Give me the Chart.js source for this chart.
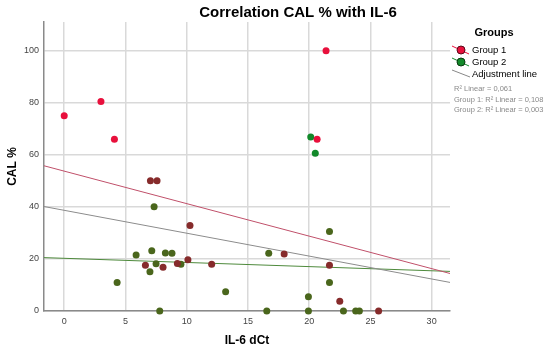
<html>
<head>
<script src="https://cdn.jsdelivr.net/npm/chart.js@4.4.0/dist/chart.umd.min.js"></script>
<style>
  body { margin: 0; background: #fff; }
  #wrap { position: relative; width: 550px; height: 351px; }
</style>
</head>
<body>
<div id="wrap"><canvas id="chart"></canvas></div>
<script>
// values (IL-6 dCt vs CAL %)
var g1X = [0, 3, 4.1, 7.04, 7.58, 10.27, 10.1, 6.63, 8.07, 9.24, 21.38, 20.65, 17.96, 12.04, 21.66, 22.5, 25.67];
var g1Y = [75, 80.5, 66, 50, 50, 32.8, 19.7, 17.6, 16.8, 18.2, 100, 66, 21.9, 18, 17.6, 3.7, 0];
var g2X = [7.34, 5.87, 7.15, 8.26, 8.8, 7.5, 7.0, 9.53, 4.32, 7.8, 20.13, 20.5, 21.66, 16.7, 21.66, 13.18, 19.94, 16.54, 19.94, 22.8, 23.8, 24.1];
var g2Y = [40, 21.5, 23.1, 22.3, 22.2, 18.1, 15.1, 18, 10.9, 0, 66.8, 60.6, 30.5, 22.2, 10.9, 7.4, 5.5, 0, 0, 0, 0, 0];
var xTicks = [0, 5, 10, 15, 20, 25, 30];
var yTicks = [0, 20, 40, 60, 80, 100];
var rLabels = ['R\u00B2 Linear = 0,061', 'Group 1: R\u00B2 Linear = 0,108', 'Group 2: R\u00B2 Linear = 0,003'];

var xMin = -1.65, xMax = 31.5, yMin = 0, yMax = 111;

function pts(xs, ys) {
  var out = [];
  for (var i = 0; i < xs.length; i++) out.push({x: xs[i], y: ys[i]});
  return out;
}

// least squares fit line across the whole x range
function fit(xs, ys) {
  var n = xs.length, mx = 0, my = 0;
  for (var i = 0; i < n; i++) { mx += xs[i]; my += ys[i]; }
  mx /= n; my /= n;
  var sxy = 0, sxx = 0;
  for (var i = 0; i < n; i++) { sxy += (xs[i] - mx) * (ys[i] - my); sxx += (xs[i] - mx) * (xs[i] - mx); }
  var b = sxy / sxx, a = my - b * mx;
  return [{x: xMin, y: a + b * xMin}, {x: xMax, y: a + b * xMax}];
}

var red = '#e8103c', darkRed = '#862b2b', green = '#12892a', olive = '#4a661c';

var legendPlugin = {
  id: 'legendPlugin',
  afterDraw: function(chart) {
    var ctx = chart.ctx;
    ctx.save();
    ctx.fillStyle = '#000';
    ctx.textBaseline = 'middle';
    ctx.textAlign = 'center';
    ctx.font = 'bold 15px "Liberation Sans", Arial, sans-serif';
    ctx.fillText('Correlation CAL % with IL-6', 298, 13);

    ctx.font = 'bold 11px "Liberation Sans", Arial, sans-serif';
    ctx.fillText('Groups', 494, 33);

    ctx.textAlign = 'left';
    ctx.font = '9.5px "Liberation Sans", Arial, sans-serif';
    var rows = [[red, '#5a0a18', 50, 'Group 1'], [green, '#0a3a10', 62, 'Group 2']];
    rows.forEach(function(r) {
      ctx.strokeStyle = r[0];
      ctx.lineWidth = 1;
      ctx.beginPath(); ctx.moveTo(452, r[2] - 4); ctx.lineTo(469, r[2] + 4); ctx.stroke();
      ctx.beginPath(); ctx.arc(461, r[2], 4, 0, Math.PI * 2);
      ctx.fillStyle = r[0]; ctx.fill();
      ctx.strokeStyle = r[1]; ctx.stroke();
      ctx.fillStyle = '#000';
      ctx.fillText(r[3], 472, r[2]);
    });
    ctx.strokeStyle = '#888';
    ctx.beginPath(); ctx.moveTo(452, 70); ctx.lineTo(470, 77); ctx.stroke();
    ctx.fillText('Adjustment line', 472, 74);

    ctx.fillStyle = '#8a8a8a';
    ctx.font = '7.5px "Liberation Sans", Arial, sans-serif';
    ctx.fillText(rLabels[0], 454, 89);
    ctx.fillText(rLabels[1], 454, 100);
    ctx.fillText(rLabels[2], 454, 110);
    ctx.restore();
  }
};

new Chart(document.getElementById('chart'), {
  type: 'scatter',
  data: {
    datasets: [
      {
        label: 'Group 1',
        data: pts(g1X, g1Y),
        pointRadius: 3.5,
        pointBorderWidth: 0,
        pointBackgroundColor: function(c) { return c.raw && c.raw.y >= 60 ? red : darkRed; },
        clip: false,
        order: 0
      },
      {
        label: 'Group 2',
        data: pts(g2X, g2Y),
        pointRadius: 3.5,
        pointBorderWidth: 0,
        pointBackgroundColor: function(c) { return c.raw && c.raw.y >= 60 ? green : olive; },
        clip: false,
        order: 0
      },
      {
        label: 'fit all',
        data: fit(g1X.concat(g2X), g1Y.concat(g2Y)),
        showLine: true, pointRadius: 0, borderColor: '#8c8c8c', borderWidth: 1, order: 1
      },
      {
        label: 'fit 1',
        data: fit(g1X, g1Y),
        showLine: true, pointRadius: 0, borderColor: '#c0506a', borderWidth: 1, order: 1
      },
      {
        label: 'fit 2',
        data: fit(g2X, g2Y),
        showLine: true, pointRadius: 0, borderColor: '#4e8a3c', borderWidth: 1, order: 1
      }
    ]
  },
  options: {
    responsive: true,
    maintainAspectRatio: false,
    animation: false,
    layout: { padding: { top: 22, right: 100, left: 0, bottom: 0 } },
    plugins: {
      legend: { display: false },
      tooltip: { enabled: false },
      title: { display: false }
    },
    scales: {
      x: {
        type: 'linear',
        min: xMin, max: xMax,
        afterBuildTicks: function(s) { s.ticks = xTicks.map(function(v) { return {value: v}; }); },
        afterFit: function(s) { s.height = 40; },
        grid: { color: '#d9d9d9', lineWidth: 1.5, drawTicks: false },
        border: { color: '#8a8a8a', width: 1.5 },
        ticks: { padding: 5, color: '#444', font: { size: 9, family: '"Liberation Sans", Arial' } },
        title: { display: true, text: 'IL-6 dCt', color: '#000', padding: { top: 0, bottom: 3 },
                 font: { size: 12, weight: 'bold', family: '"Liberation Sans", Arial' } }
      },
      y: {
        type: 'linear',
        min: yMin, max: yMax,
        afterBuildTicks: function(s) { s.ticks = yTicks.map(function(v) { return {value: v}; }); },
        afterFit: function(s) { s.width = 44; },
        grid: { color: '#d9d9d9', lineWidth: 1.5, drawTicks: false },
        border: { color: '#8a8a8a', width: 1.5 },
        ticks: { padding: 5, color: '#444', font: { size: 9, family: '"Liberation Sans", Arial' } },
        title: { display: true, text: 'CAL %', color: '#000', padding: { top: 5, bottom: 0 },
                 font: { size: 12, weight: 'bold', family: '"Liberation Sans", Arial' } }
      }
    }
  },
  plugins: [legendPlugin]
});
</script>
</body>
</html>
